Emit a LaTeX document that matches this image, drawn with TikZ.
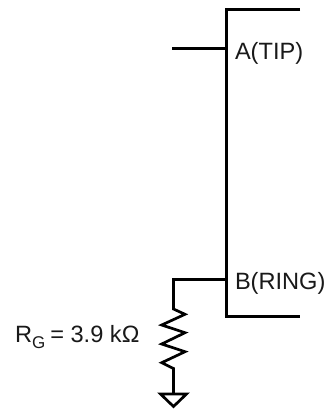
\documentclass[tikz,border=0pt]{standalone}
\usepackage{fontspec}
\setmainfont{Liberation Sans}
\begin{document}
\begin{tikzpicture}[x=1pt,y=-1pt,wire/.style={line width=2.7pt,black,line join=miter},
 lab/.style={inner sep=0pt,outer sep=0pt,anchor=base west,font=\fontsize{23.6}{26}\selectfont,text=black!90}]
\useasboundingbox (0,0) rectangle (328,411);
\coordinate (tr) at (300,9.5);
\coordinate (tl) at (226.5,9.5);
\coordinate (bl) at (226.5,316.5);
\coordinate (br) at (300,316.5);
\coordinate (astub) at (172,48.5);
\coordinate (apin) at (226.5,48.5);
\coordinate (bpin) at (226.5,279.5);
\coordinate (bcorner) at (173.5,279.5);
\coordinate (rtop) at (173.5,309);
\coordinate (rbot) at (173.5,368.5);
\coordinate (gnd) at (173.5,394);
\draw[wire] (tr) -- (tl) -- (bl) -- (br);
\draw[wire] (astub) -- (apin);
\draw[wire] (bpin) -- (bcorner) -- (rtop)
 -- (185,314.3) -- (161.7,325) -- (185,332.7) -- (161.7,344) -- (185,351.7) -- (161.7,362.7) -- (rbot) -- (gnd);
\draw[wire] (160.5,394) -- (186.5,394) -- (173.5,406.5) -- cycle;
\node[lab] (atxt) at (235,60) {A(TIP)};
\node[lab] (btxt) at (235,289.5) {B(RING)};
\node[lab] (rg) at (15,342.7) {R\raisebox{-5.5pt}{\fontsize{17}{17}\selectfont G}\hspace{5pt}= 3.9 kΩ};
\end{tikzpicture}
\end{document}
